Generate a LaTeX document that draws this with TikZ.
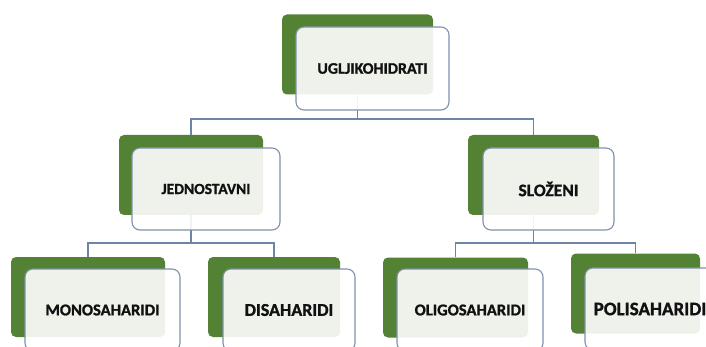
\documentclass[tikz,border=0pt]{standalone}
\usepackage{fontspec}
\setmainfont{Carlito}
\newfontfamily\boxfont{Carlito}[BoldFeatures={FakeBold=1.2}]
\usetikzlibrary{positioning}
\definecolor{leafgreen}{HTML}{548235}
\definecolor{boxline}{HTML}{7F91AB}
\definecolor{linkline}{HTML}{6E84A4}
\definecolor{inktext}{HTML}{111111}

\begin{document}
\begin{tikzpicture}[
    x=1pt, y=-1pt,
    back/.style={
        rectangle,
        rounded corners=5pt,
        fill=leafgreen,
        minimum height=80pt
    },
    front/.style={
        rectangle,
        rounded corners=8pt,
        draw=boxline,
        line width=1.1pt,
        fill=white,
        fill opacity=0.9,
        text opacity=1,
        text=inktext,
        align=center,
        minimum height=82pt,
        font=\boxfont\bfseries\fontsize{16}{19}\selectfont
    },
    link/.style={draw=linkline, line width=1.1pt}
]
\useasboundingbox (0,0) rectangle (706,347);
\clip (0,0) rectangle (706,347);

% connectors
\coordinate (topbar) at (0,119);
\coordinate (leftbar) at (0,243);
\coordinate (rightbar) at (0,243);

% green backs
\node[back, minimum width=151pt] (ugljikB) at (357.5,54.5) {};
\node[back, minimum width=144pt] (jednB) at (191,175) {};
\node[back, minimum width=131pt] (slozB) at (533.5,175) {};
\node[back, minimum width=154pt] (monoB) at (88,297) {};
\node[back, minimum width=132pt] (disaB) at (274,297) {};
\node[back, minimum width=145pt] (oligoB) at (455.5,297.5) {};
\node[back, minimum width=129pt] (poliB) at (635.5,293.5) {};

\draw[link] (ugljikB.south) -- (ugljikB.south |- topbar) -| (jednB.north);
\draw[link] (ugljikB.south |- topbar) -| (slozB.north);
\draw[link] (jednB.south) -- (jednB.south |- leftbar) -| (monoB.north);
\draw[link] (jednB.south |- leftbar) -| (disaB.north);
\draw[link] (slozB.south) -- (slozB.south |- rightbar) -| (oligoB.north);
\draw[link] (slozB.south |- rightbar) -| (poliB.north);

% white fronts
\node[front, minimum width=153pt, minimum height=83pt] (ugljik) at (372.5,68.5) {UGLJIKOHIDRATI};
\node[front, minimum width=148pt, font=\boxfont\bfseries\fontsize{15.5}{18}\selectfont] (jedn) at (206,189) {JEDNOSTAVNI};
\node[front, minimum width=131pt, font=\boxfont\bfseries\fontsize{17.5}{20}\selectfont] (sloz) at (548.5,189) {SLOŽENI};
\node[front, minimum width=155pt, font=\boxfont\bfseries\fontsize{16.5}{19}\selectfont] (mono) at (102.5,310) {MONOSAHARIDI};
\node[front, minimum width=132pt, font=\boxfont\bfseries\fontsize{18}{21}\selectfont] (disa) at (289,310) {DISAHARIDI};
\node[front, minimum width=146pt, font=\boxfont\bfseries\fontsize{16.5}{19}\selectfont] (oligo) at (470,310) {OLIGOSAHARIDI};
\node[front, minimum width=130pt, font=\boxfont\bfseries\fontsize{19}{22}\selectfont] (poli) at (650,309) {POLISAHARIDI};

\end{tikzpicture}
\end{document}
